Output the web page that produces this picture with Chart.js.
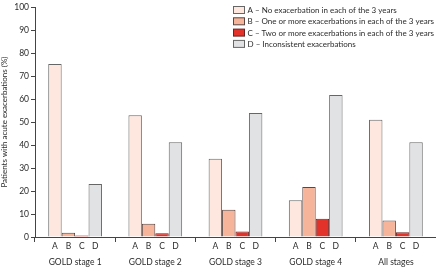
<!DOCTYPE html>
<html><head><meta charset="utf-8">
<script src="https://cdn.jsdelivr.net/npm/chart.js@4/dist/chart.umd.min.js"></script>
<style>html,body{margin:0;padding:0;background:#fff}#wrap{width:436px;height:271px}</style>
</head><body><div id="wrap"><canvas id="c" width="436" height="271"></canvas></div>
<script>
const groups = ["GOLD stage 1","GOLD stage 2","GOLD stage 3","GOLD stage 4","All stages"];
const seriesLetters = ["A","B","C","D"];
const seriesNames = [
  "A – No exacerbation in each of the 3 years",
  "B – One or more exacerbations in each of the 3 years",
  "C – Two or more exacerbations in each of the 3 years",
  "D – Inconsistent exacerbations"
];
const valuesA = [75.2, 53, 34, 16, 51];
const valuesB = [1.8, 5.8, 11.8, 21.8, 7.2];
const valuesC = [0.7, 1.6, 2.4, 7.9, 2.1];
const valuesD = [23, 41.2, 53.9, 61.8, 41.2];
const yTicks = [0,10,20,30,40,50,60,70,80,90,100];

const FONT = "Lato, 'Open Sans', sans-serif";
const TXT = "#2b2b2b";
const fills = ["#fde7de","#f6b59b","#e3322a","#e1e2e4"];
const borders = ["#666","#5a4540","#6a2020","#666"];
const allVals = [valuesA, valuesB, valuesC, valuesD];

const letterPlugin = {
  id: 'letters',
  afterDraw(chart) {
    const ctx = chart.ctx;
    ctx.save();
    ctx.font = "8.5px " + FONT;
    ctx.fillStyle = TXT;
    ctx.textAlign = "center";
    ctx.textBaseline = "middle";
    const yb = chart.scales.x.top;
    chart.data.datasets.forEach((ds, i) => {
      const meta = chart.getDatasetMeta(i);
      meta.data.forEach(bar => {
        ctx.fillText(seriesLetters[i], bar.x, yb + 9.5);
      });
    });
    // legend
    ctx.textAlign = "left";
    ctx.font = "8px " + FONT;
    const lx = 233, ly0 = 10, step = 11.3;
    seriesNames.forEach((name, i) => {
      const y = ly0 + i * step;
      ctx.fillStyle = fills[i];
      ctx.fillRect(lx + 0.5, y - 3.5, 11, 7);
      ctx.strokeStyle = borders[i];
      ctx.lineWidth = 1;
      ctx.strokeRect(lx + 0.5, y - 3.5, 11, 7);
      ctx.fillStyle = TXT;
      ctx.fillText(name, lx + 14.5, y + 0.5);
    });
    ctx.restore();
  }
};

new Chart(document.getElementById('c'), {
  type: 'bar',
  data: {
    labels: groups,
    datasets: allVals.map((v, i) => ({
      label: seriesNames[i],
      data: v,
      backgroundColor: fills[i],
      borderColor: borders[i],
      borderWidth: 1,
      barPercentage: 1,
      categoryPercentage: 0.67
    }))
  },
  options: {
    responsive: false,
    animation: false,
    devicePixelRatio: 1,
    layout: { padding: { top: 3, right: 0, left: 0, bottom: 0 } },
    plugins: { legend: { display: false }, tooltip: { enabled: false } },
    scales: {
      x: {
        offset: true,
        afterFit(s) { s.height = 34; },
        border: { display: true, color: "#444", width: 1 },
        grid: { display: true, drawOnChartArea: false, drawTicks: true, tickLength: 5, offset: true, color: "#444" },
        ticks: { font: { family: FONT, size: 8.5 }, color: TXT, padding: 15 }
      },
      y: {
        min: 0, max: 100,
        afterFit(s) { s.width = 35; },
        afterBuildTicks(s) { s.ticks = yTicks.map(v => ({ value: v })); },
        border: { display: true, color: "#444", width: 1 },
        grid: { display: true, drawOnChartArea: false, drawTicks: true, tickLength: 4, color: "#444" },
        ticks: { font: { family: FONT, size: 8.5 }, color: TXT, padding: 2 },
        title: { display: true, text: "Patients with acute exacerbations (%)", font: { family: FONT, size: 8 }, color: TXT, padding: 0 }
      }
    }
  },
  plugins: [letterPlugin]
});
</script></body></html>
